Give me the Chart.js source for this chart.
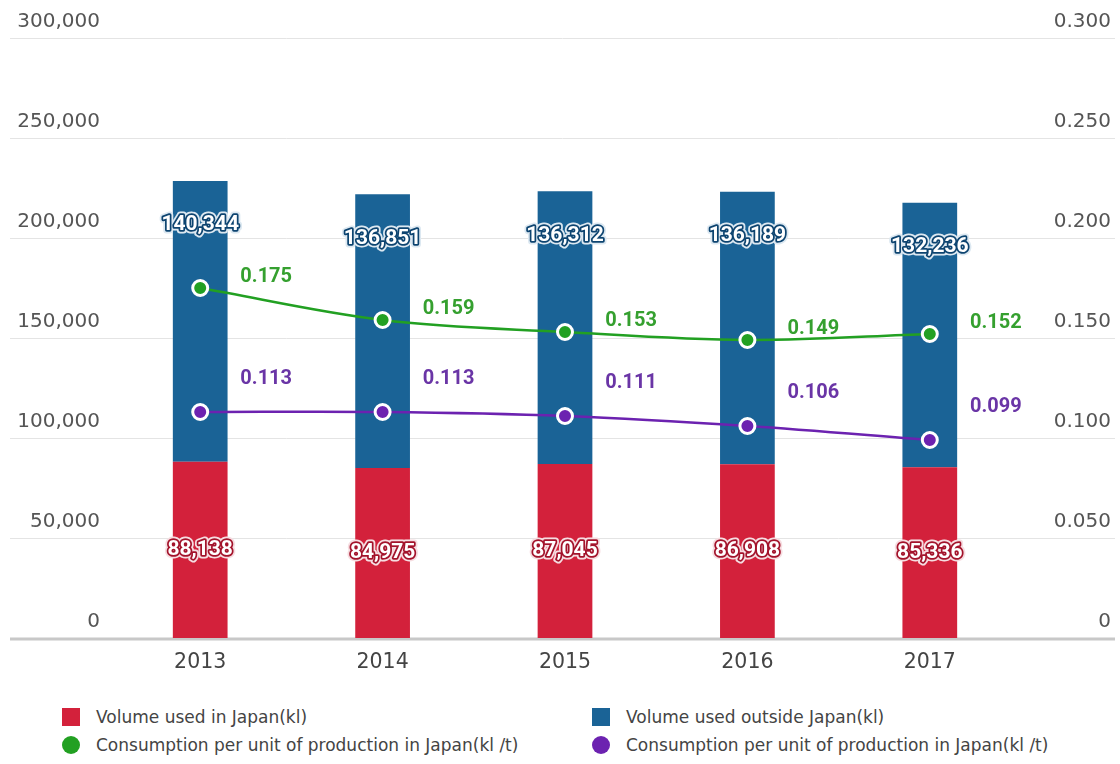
<!DOCTYPE html>
<html>
<head>
<meta charset="utf-8">
<script src="https://cdn.jsdelivr.net/npm/chart.js@4.4.1/dist/chart.umd.min.js"></script>
<style>
    body { margin: 0; background: #fff; }
    #wrap { position: relative; width: 1120px; height: 764px; }
    #box { position: absolute; left: 0; top: 0; width: 1120px; height: 690px; }
    .leg { position: absolute; font-family: "DejaVu Sans", sans-serif; font-size: 17px; color: #444; line-height: 18px; white-space: nowrap; }
    .leg i { position: absolute; left: 0; top: 0; width: 18px; height: 18px; }
    .leg span { position: absolute; left: 34px; top: 0; }
</style>
</head>
<body>
<div id="wrap">
    <div id="box"><canvas id="usageChart"></canvas></div>
    <div id="legend"></div>
</div>
<script>
const years = ['2013', '2014', '2015', '2016', '2017']
const volJapan = [88138, 84975, 87045, 86908, 85336]
const volOutside = [140344, 136851, 136312, 136189, 132236]
const unitGreen = [0.175, 0.159, 0.153, 0.149, 0.152]
const unitPurple = [0.113, 0.113, 0.111, 0.106, 0.099]
const leftTicks = [0, 50000, 100000, 150000, 200000, 250000, 300000]
const rightTicks = [0, 0.05, 0.1, 0.15, 0.2, 0.25, 0.3]

const seriesNames = [
    'Volume used in Japan(kl)',
    'Volume used outside Japan(kl)',
    'Consumption per unit of production in Japan(kl /t)',
    'Consumption per unit of production in Japan(kl /t)'
]

const RED = '#d3213b'
const BLUE = '#1a6396'
const GREEN = '#22a022'
const PURPLE = '#6c22b0'

// long grid lines that run past the plot area
const gridPlugin = {
    id: 'wideGrid',
    beforeDatasetsDraw(chart) {
        const ctx = chart.ctx
        const y = chart.scales.y
        ctx.save()
        y.ticks.forEach(t => {
            let py = Math.round(y.getPixelForValue(t.value))
            ctx.beginPath()
            if (t.value === 0) {
                ctx.strokeStyle = '#c8c8c8'
                ctx.lineWidth = 3
                py = py + 1
            } else {
                ctx.strokeStyle = '#e4e4e4'
                ctx.lineWidth = 1
                py = py + 0.5
            }
            ctx.moveTo(10, py)
            ctx.lineTo(1115, py)
            ctx.stroke()
        })
        ctx.restore()
    }
}

function haloText(ctx, txt, x, y, inner, outer) {
    ctx.lineJoin = 'round'
    ctx.strokeStyle = outer
    ctx.lineWidth = 7
    ctx.strokeText(txt, x, y)
    ctx.strokeStyle = inner
    ctx.lineWidth = 3.5
    ctx.strokeText(txt, x, y)
    ctx.fillStyle = '#fff'
    ctx.fillText(txt, x, y)
}

const labelPlugin = {
    id: 'valueLabels',
    afterDatasetsDraw(chart) {
        const ctx = chart.ctx
        ctx.save()
        ctx.textAlign = 'center'
        ctx.textBaseline = 'middle'
        ctx.font = 'bold 21px Roboto'
        chart.getDatasetMeta(0).data.forEach((bar, i) => {
            haloText(ctx, volJapan[i].toLocaleString('en-US'), bar.x, (bar.y + bar.base) / 2, '#a3132b', '#f6dde1')
        })
        chart.getDatasetMeta(1).data.forEach((bar, i) => {
            haloText(ctx, volOutside[i].toLocaleString('en-US'), bar.x, bar.y + 44, '#0d4470', '#dce8f1')
        })
        ctx.font = 'bold 20px Roboto'
        chart.getDatasetMeta(2).data.forEach((pt, i) => {
            ctx.fillStyle = '#35a02f'
            ctx.fillText(unitGreen[i].toFixed(3), pt.x + 66, pt.y - 11)
        })
        chart.getDatasetMeta(3).data.forEach((pt, i) => {
            ctx.fillStyle = '#6a35a6'
            ctx.fillText(unitPurple[i].toFixed(3), pt.x + 66, pt.y - 33)
        })
        ctx.restore()
    }
}

const ctx = document.getElementById('usageChart')
const chart = new Chart(ctx, {
    type: 'bar',
    data: {
        labels: years,
        datasets: [{
            label: seriesNames[0],
            data: volJapan,
            backgroundColor: RED,
            yAxisID: 'y',
            stack: 'vol',
            order: 2,
            categoryPercentage: 1,
            barPercentage: 0.3
        }, {
            label: seriesNames[1],
            data: volOutside,
            backgroundColor: BLUE,
            yAxisID: 'y',
            stack: 'vol',
            order: 2,
            categoryPercentage: 1,
            barPercentage: 0.3
        }, {
            type: 'line',
            label: seriesNames[2],
            data: unitGreen,
            borderColor: GREEN,
            backgroundColor: GREEN,
            borderWidth: 2.5,
            pointRadius: 7.5,
            pointBorderWidth: 3,
            pointBorderColor: '#fff',
            tension: 0.35,
            yAxisID: 'y2',
            order: 1
        }, {
            type: 'line',
            label: seriesNames[3],
            data: unitPurple,
            borderColor: PURPLE,
            backgroundColor: PURPLE,
            borderWidth: 2.5,
            pointRadius: 7.5,
            pointBorderWidth: 3,
            pointBorderColor: '#fff',
            tension: 0.35,
            yAxisID: 'y2',
            order: 0
        }]
    },
    options: {
        responsive: true,
        maintainAspectRatio: false,
        animation: false,
        layout: { padding: { top: 38, right: 9, left: 0, bottom: 0 } },
        plugins: {
            legend: { display: false },
            tooltip: { enabled: false }
        },
        scales: {
            x: {
                stacked: true,
                grid: { display: false, drawTicks: false },
                border: { display: false },
                ticks: { color: '#444', font: { family: 'DejaVu Sans', size: 20.5 }, padding: 12 },
                afterFit: function (s) { s.height = 52 }
            },
            y: {
                stacked: true,
                position: 'left',
                min: 0,
                max: 300000,
                afterBuildTicks: function (s) { s.ticks = leftTicks.map(v => ({ value: v })) },
                grid: { display: false, drawTicks: false },
                border: { display: false },
                ticks: {
                    color: '#555',
                    font: { family: 'DejaVu Sans', size: 20 },
                    padding: 9,
                    labelOffset: -16,
                    callback: v => v === 0 ? '0' : v.toLocaleString('en-US')
                },
                afterFit: function (s) { s.width = 109 }
            },
            y2: {
                position: 'right',
                min: 0,
                max: 0.3,
                afterBuildTicks: function (s) { s.ticks = rightTicks.map(v => ({ value: v })) },
                grid: { display: false, drawTicks: false },
                border: { display: false },
                ticks: {
                    color: '#555',
                    font: { family: 'DejaVu Sans', size: 20 },
                    padding: 9,
                    labelOffset: -16,
                    crossAlign: 'far',
                    callback: v => v === 0 ? '0' : v.toFixed(3)
                },
                afterFit: function (s) { s.width = 90 }
            }
        }
    },
    plugins: [gridPlugin, labelPlugin]
});

// legend in two columns under the chart
const legendSpots = [[62, 708], [592, 708], [62, 736], [592, 736]]
let legendHtml = ''
chart.data.datasets.forEach((ds, i) => {
    const round = ds.type === 'line' ? 'border-radius:50%;' : ''
    legendHtml += '<div class="leg" style="left:' + legendSpots[i][0] + 'px;top:' + legendSpots[i][1] + 'px;">' +
        '<i style="background:' + ds.backgroundColor + ';' + round + '"></i><span>' + ds.label + '</span></div>'
})
document.getElementById('legend').innerHTML = legendHtml
</script>
</body>
</html>
